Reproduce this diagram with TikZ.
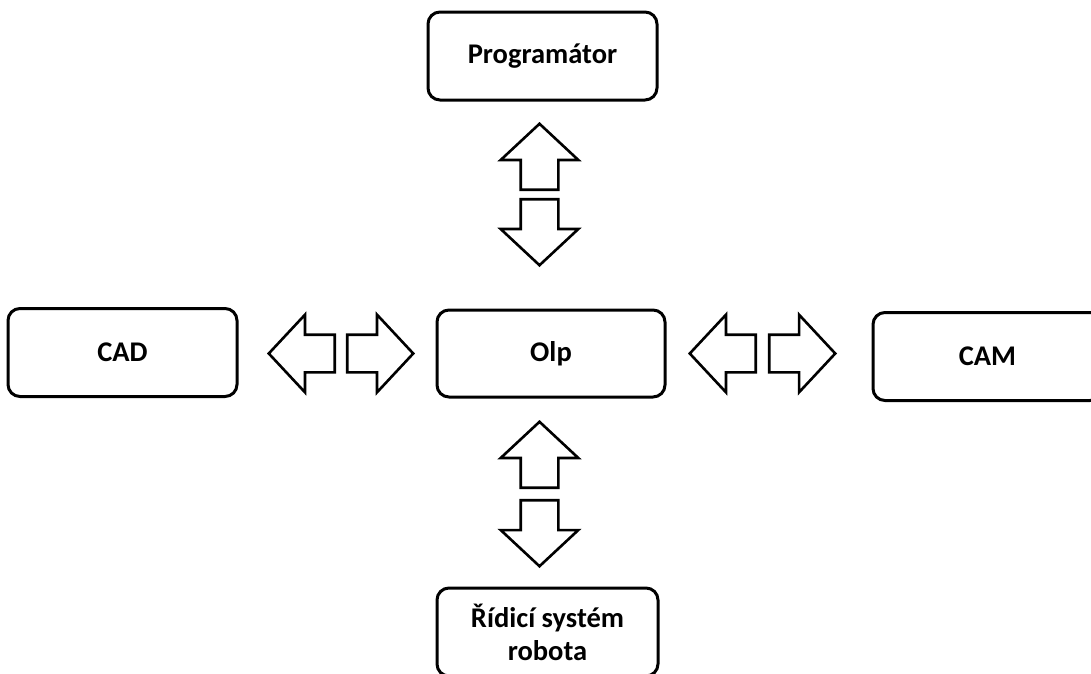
\documentclass[tikz,border=0pt]{standalone}
\usepackage{fontspec}
\setmainfont{Carlito}
\usetikzlibrary{shapes.arrows}
\tikzset{
  box/.style={rectangle, draw, line width=3pt, rounded corners=12pt, minimum width=229pt, minimum height=88pt, font=\fontsize{28.5}{33}\selectfont\bfseries, align=center, inner sep=0pt},
  barrow/.style={single arrow, draw, line width=2.6pt, minimum height=66pt, minimum width=0pt, inner xsep=0pt, inner ysep=17.5pt, single arrow head extend=20pt, single arrow tip angle=94},
}
\begin{document}
\begin{tikzpicture}[x=1pt, y=1pt, node distance=100pt]
  \useasboundingbox (0,0) rectangle (1091,-673);
  \clip (0,0) rectangle (1091,-673);
  % Place nodes
  \node[box, minimum width=228pt, minimum height=87pt] (olp) at (551,-353.5) {Olp};
  \node[box, above of=olp, node distance=297.5pt, xshift=-8.5pt] (prog) {Programátor};
  \node[box, left of=olp, node distance=428.5pt, yshift=1pt] (cad) {CAD};
  \node[box, right of=olp, node distance=436.5pt, yshift=-3pt] (cam) {CAM};
  \node[box, below of=olp, node distance=278.5pt, xshift=-3.5pt, minimum width=221pt] (ridic) {Řídicí systém\\robota};
  % Draw arrows
  \node[barrow, rotate=90, anchor=tip] (progup) at (539.5,-122) {};
  \node[barrow, rotate=270, anchor=tip] (progdn) at (539.5,-267) {};
  \node[barrow, rotate=90, anchor=tip] (ridicup) at (539.5,-420) {};
  \node[barrow, rotate=270, anchor=tip] (ridicdn) at (539.5,-568) {};
  \node[barrow, rotate=180, anchor=tip] (cadlt) at (267,-353.5) {};
  \node[barrow, anchor=tip] (cadrt) at (415,-353.5) {};
  \node[barrow, rotate=180, anchor=tip] (camlt) at (688,-353.5) {};
  \node[barrow, anchor=tip] (camrt) at (837,-353.5) {};
\end{tikzpicture}
\end{document}
